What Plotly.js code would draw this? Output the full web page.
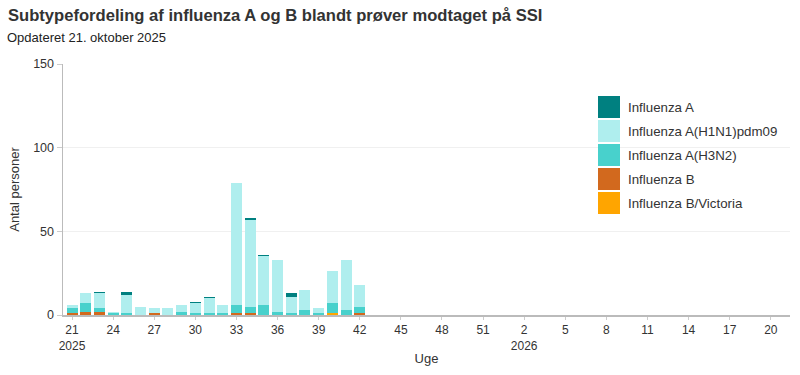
<!DOCTYPE html>
<html>
<head>
<meta charset="utf-8">
<script src="https://cdn.plot.ly/plotly-3.0.1.min.js"></script>
<style>html,body{margin:0;padding:0;background:#fff;}#chart{width:800px;height:375px;}</style>
</head>
<body>
<div id="chart"></div>
<script>
// Weeks shown on the axis (2025 week 21 .. 2026 week 21)
const axisWeeks = [];
for (let w = 21; w <= 52; w++) axisWeeks.push("2025-U" + w);
for (let w = 1; w <= 21; w++) axisWeeks.push("2026-U" + w);

// Weeks with data
const dataWeeks = ["2025-U21","2025-U22","2025-U23","2025-U24","2025-U25","2025-U26","2025-U27","2025-U28","2025-U29","2025-U30","2025-U31","2025-U32","2025-U33","2025-U34","2025-U35","2025-U36","2025-U37","2025-U38","2025-U39","2025-U40","2025-U41","2025-U42"];

const influenzaBVictoria = [0,0,0,0,0,0,0,0,0,0,0,0,0,0,0,0,0,0,0,1,0,0];
const influenzaB         = [1,2,2,0,0,0,1,0,0,0,0,0,1,1,0,0,0,0,0,0,0,1];
const influenzaAH3N2     = [3,5,2,1,1,0,0,0,2,1,1,1,5,4,6,2,1,3,1,6,3,4];
const influenzaAH1N1     = [2,6,9,1,11,5,3,4,4,6,9,5,73,52,29,31,10,12,3,19,30,13];
const influenzaA         = [0,0,1,0,2,0,0,0,0,1,1,0,0,1,1,0,2,0,0,0,0,0];

const seriesNames = ["Influenza A","Influenza A(H1N1)pdm09","Influenza A(H3N2)","Influenza B","Influenza B/Victoria"];
const seriesColors = ["#008080","#afeeee","#48d1cc","#d2691e","#ffa500"];

const tickWeeks = ["2025-U21","2025-U24","2025-U27","2025-U30","2025-U33","2025-U36","2025-U39","2025-U42","2025-U45","2025-U48","2025-U51","2026-U2","2026-U5","2026-U8","2026-U11","2026-U14","2026-U17","2026-U20"];
const tickLabels = ["21<br>2025","24","27","30","33","36","39","42","45","48","51","2<br>2026","5","8","11","14","17","20"];

// stacked bottom to top
const stackOrder = [
  [influenzaBVictoria, 4],
  [influenzaB, 3],
  [influenzaAH3N2, 2],
  [influenzaAH1N1, 1],
  [influenzaA, 0]
];
const traces = stackOrder.map(([vals, i]) => ({
  type: "bar",
  x: dataWeeks,
  y: vals,
  name: seriesNames[i],
  marker: {color: seriesColors[i], line: {width: 0}},
  showlegend: false,
  hoverinfo: "x+y+name"
}));

const W = 800, H = 375, ml = 63, mr = 10, mt = 64, mb = 60;
const px = x => (x - ml) / (W - ml - mr);
const py = y => (H - mb - y) / (H - mt - mb);

const shapes = [];
const annotations = [];
seriesNames.forEach((name, i) => {
  const top = 96 + i * 24;
  shapes.push({type: "rect", xref: "paper", yref: "paper",
    x0: px(598), x1: px(620), y0: py(top + 22), y1: py(top),
    fillcolor: seriesColors[i], line: {width: 0}});
  annotations.push({xref: "paper", yref: "paper", x: px(626), y: py(top + 11),
    xanchor: "left", yanchor: "middle", showarrow: false, text: name,
    font: {family: "Liberation Sans, Arial, sans-serif", size: 13.3, color: "#333"}});
});
annotations.push({xref: "paper", yref: "paper", x: px(5), y: py(37), xanchor: "left", yanchor: "middle",
  showarrow: false, text: "Opdateret 21. oktober 2025",
  font: {family: "Liberation Sans, Arial, sans-serif", size: 13, color: "#222"}});

const layout = {
  width: W, height: H,
  margin: {l: ml, r: mr, t: mt, b: mb},
  paper_bgcolor: "#fff", plot_bgcolor: "#fff",
  barmode: "stack", bargap: 0.2,
  font: {family: "Liberation Sans, Arial, sans-serif", size: 12, color: "#333"},
  title: {text: "<b>Subtypefordeling af influenza A og B blandt prøver modtaget på SSI</b>",
    xref: "container", yref: "container", x: 8 / W, y: 1 - 15 / H, xanchor: "left", yanchor: "middle",
    font: {family: "Liberation Sans, Arial, sans-serif", size: 16.6, color: "#333"}},
  xaxis: {
    type: "category", categoryorder: "array", categoryarray: axisWeeks,
    range: [-0.66, 52.4],
    tickmode: "array", tickvals: tickWeeks, ticktext: tickLabels,
    ticks: "outside", ticklen: 3, tickcolor: "#ccc",
    showline: true, linecolor: "#bbb", linewidth: 1.5, showgrid: false,
    tickfont: {size: 12, color: "#333"},
    title: {text: "Uge", font: {size: 13, color: "#333"}, standoff: 2}
  },
  yaxis: {
    range: [0, 150], tickvals: [0, 50, 100, 150],
    ticks: "outside", ticklen: 5, tickcolor: "#ccc",
    showline: true, linecolor: "#bbb", linewidth: 1.5,
    gridcolor: "#f0f0f0", zeroline: false,
    tickfont: {size: 12.5, color: "#333"},
    title: {text: "Antal personer", font: {size: 13, color: "#333"}, standoff: 10}
  },
  shapes: shapes,
  annotations: annotations,
  showlegend: false
};

Plotly.newPlot("chart", traces, layout, {displayModeBar: false, staticPlot: true});
</script>
</body>
</html>
